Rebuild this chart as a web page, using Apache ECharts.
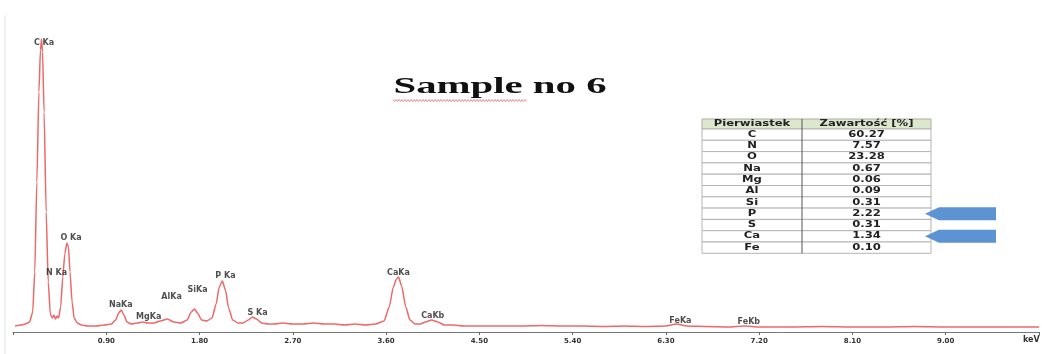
<!DOCTYPE html>
<html>
<head>
<meta charset="utf-8">
<script src="https://cdn.jsdelivr.net/npm/echarts@6/dist/echarts.min.js"></script>
<style>
	html, body { margin: 0; padding: 0; background: #fff; }
	#chart { width: 1042px; height: 354px; }
</style>
</head>
<body>
<div id="chart"></div>
<script>
// EDS spectrum: [energy keV, counts (arb.)]
const spectrum = [
	[0.02, 6], [0.08, 7], [0.12, 8], [0.16, 10], [0.19, 20], [0.21, 60], [0.23, 150],
	[0.25, 240], [0.265, 282], [0.275, 293], [0.285, 280], [0.30, 220], [0.32, 120],
	[0.34, 50], [0.36, 18], [0.38, 14], [0.395, 17], [0.41, 13], [0.425, 16], [0.44, 14],
	[0.46, 25], [0.48, 55], [0.50, 78], [0.52, 89], [0.535, 85], [0.55, 60], [0.57, 30],
	[0.59, 14], [0.62, 9], [0.66, 7], [0.72, 6], [0.80, 6], [0.88, 7], [0.95, 8],
	[0.99, 12], [1.02, 19], [1.045, 22], [1.07, 17], [1.10, 10], [1.14, 8], [1.20, 9],
	[1.25, 10], [1.30, 9], [1.36, 9], [1.42, 11], [1.49, 13], [1.55, 10], [1.62, 9],
	[1.68, 12], [1.72, 20], [1.75, 23], [1.78, 19], [1.82, 12], [1.87, 11], [1.92, 14],
	[1.96, 28], [1.99, 45], [2.02, 51], [2.05, 42], [2.08, 24], [2.12, 12], [2.17, 9],
	[2.22, 9], [2.27, 12], [2.31, 15], [2.35, 13], [2.40, 9], [2.46, 8], [2.52, 8],
	[2.60, 9], [2.70, 8], [2.80, 8], [2.90, 9], [3.00, 8], [3.10, 8], [3.20, 7],
	[3.30, 8], [3.40, 7], [3.50, 8], [3.58, 11], [3.63, 25], [3.67, 45], [3.70, 53],
	[3.72, 55], [3.75, 46], [3.79, 25], [3.83, 12], [3.88, 8], [3.93, 8], [3.98, 10],
	[4.04, 12], [4.10, 10], [4.16, 7], [4.25, 7], [4.35, 6], [4.50, 6], [4.70, 6],
	[4.90, 6], [5.10, 6.5], [5.30, 6], [5.50, 6], [5.70, 5.5], [5.90, 6], [6.10, 5.5],
	[6.30, 6], [6.40, 8], [6.50, 6], [6.70, 5.5], [6.90, 5], [7.06, 6], [7.20, 5],
	[7.50, 5], [7.80, 5.5], [8.10, 5], [8.40, 5], [8.70, 5.5], [9.00, 5], [9.30, 5],
	[9.60, 5], [9.90, 5]
]

// peak labels: name, energy of label centre, height of label
const peakNames = ['C Ka', 'N Ka', 'O Ka', 'NaKa', 'MgKa', 'AlKa', 'SiKa', 'P Ka', 'S Ka', 'CaKa', 'CaKb', 'FeKa', 'FeKb']
const peakEnergy = [0.30, 0.42, 0.56, 1.04, 1.31, 1.53, 1.78, 2.05, 2.36, 3.72, 4.05, 6.44, 7.10]
const peakLabelY = [289, 59, 94, 27, 15, 35, 42, 56, 19, 59, 16, 11, 10]

// table of element content
const tableHeader = ['Pierwiastek', 'Zawartość [%]']
const tableElements = ['C', 'N', 'O', 'Na', 'Mg', 'Al', 'Si', 'P', 'S', 'Ca', 'Fe']
const tableContent = ['60.27', '7.57', '23.28', '0.67', '0.06', '0.09', '0.31', '2.22', '0.31', '1.34', '0.10']
const arrowRows = ['P', 'Ca']

const chart = echarts.init(document.getElementById('chart'))

// table geometry
const tX = [702, 802, 931]
const tTop = 119
const headH = 10
const rowH = 11.3
const tableFont = 'bold 8px "DejaVu Sans"'

const graphics = []

// faint slide edge
graphics.push({ type: 'line', shape: { x1: 5, y1: 15, x2: 5, y2: 354 }, style: { stroke: '#dde3ea', lineWidth: 1 }, silent: true })

// title, stretched like the source picture
graphics.push({
	type: 'text', x: 500, y: 87, scaleX: 1.7,
	style: { text: 'Sample no 6', font: 'bold 24px "Liberation Serif"', fill: '#111', textAlign: 'center', textVerticalAlign: 'middle' }
})
// spell-check squiggle under "Sample"
const squiggle = []
for (let x = 393; x <= 527; x += 1.5) squiggle.push([x, Math.round((x - 393) / 1.5) % 2 === 0 ? 99.5 : 101.5])
graphics.push({ type: 'polyline', shape: { points: squiggle }, style: { stroke: '#e46a6a', lineWidth: 0.8, fill: null }, silent: true })

// header background
graphics.push({ type: 'rect', shape: { x: tX[0], y: tTop, width: tX[2] - tX[0], height: headH }, style: { fill: '#dce7cd', stroke: '#aab0a0', lineWidth: 1 } })
tableHeader.forEach((h, c) => {
	graphics.push({
		type: 'text', x: (tX[c] + tX[c + 1]) / 2, y: tTop + headH / 2, scaleX: 1.45,
		style: { text: h, font: tableFont, fill: '#222', textAlign: 'center', textVerticalAlign: 'middle' }
	})
})
tableElements.forEach((el, r) => {
	const y0 = tTop + headH + r * rowH
	graphics.push({ type: 'rect', shape: { x: tX[0], y: y0, width: tX[2] - tX[0], height: rowH }, style: { fill: '#fff', stroke: '#b5b5b5', lineWidth: 1 } })
	;[el, tableContent[r]].forEach((t, c) => {
		graphics.push({
			type: 'text', x: (tX[c] + tX[c + 1]) / 2, y: y0 + rowH / 2, scaleX: 1.45,
			style: { text: t, font: tableFont, fill: '#222', textAlign: 'center', textVerticalAlign: 'middle' }
		})
	})
})
// column divider
graphics.push({ type: 'line', shape: { x1: tX[1], y1: tTop, x2: tX[1], y2: tTop + headH + tableElements.length * rowH }, style: { stroke: '#555', lineWidth: 1 } })

// blue arrows pointing at P and Ca
arrowRows.forEach((el) => {
	const r = tableElements.indexOf(el)
	const cy = tTop + headH + r * rowH + rowH / 2
	graphics.push({
		type: 'polygon',
		shape: { points: [[925, cy], [939, cy - 6.5], [996, cy - 6.5], [996, cy + 6.5], [939, cy + 6.5]] },
		style: { fill: '#5b93d3' }
	})
})

// keV unit at the right end of the axis
graphics.push({ type: 'text', x: 1023, y: 336, style: { text: 'keV', font: 'bold 8px "DejaVu Sans"', fill: '#333' } })

const option = {
	animation: false,
	grid: { left: 13, right: 0, top: 32, bottom: 22 },
	xAxis: {
		type: 'value',
		min: 0,
		max: 9.9,
		interval: 0.9,
		axisLine: { show: true, onZero: false, lineStyle: { color: '#777', width: 1 } },
		axisTick: { show: true, length: 3, lineStyle: { color: '#666' } },
		axisLabel: {
			margin: 6,
			fontSize: 7,
			fontWeight: 'bold',
			fontFamily: 'DejaVu Sans',
			color: '#333',
			formatter: (v) => (v === 0 || v > 9.5 ? '' : v.toFixed(2))
		},
		splitLine: { show: false }
	},
	yAxis: {
		type: 'value',
		min: 0,
		max: 300,
		show: false
	},
	series: [
		{
			type: 'line',
			data: spectrum,
			showSymbol: false,
			smooth: 0.2,
			smoothMonotone: 'x',
			lineStyle: { color: '#ee6868', width: 1.5 },
			z: 2
		},
		{
			type: 'scatter',
			symbolSize: 0,
			data: peakNames.map((n, i) => ({ name: n, value: [peakEnergy[i], peakLabelY[i]] })),
			label: {
				show: true,
				position: 'inside',
				formatter: (p) => p.name,
				fontSize: 8,
				fontWeight: 'bold',
				fontFamily: 'DejaVu Sans',
				color: '#222'
			},
			z: 3
		}
	],
	graphic: graphics
}

chart.setOption(option)
</script>
</body>
</html>
